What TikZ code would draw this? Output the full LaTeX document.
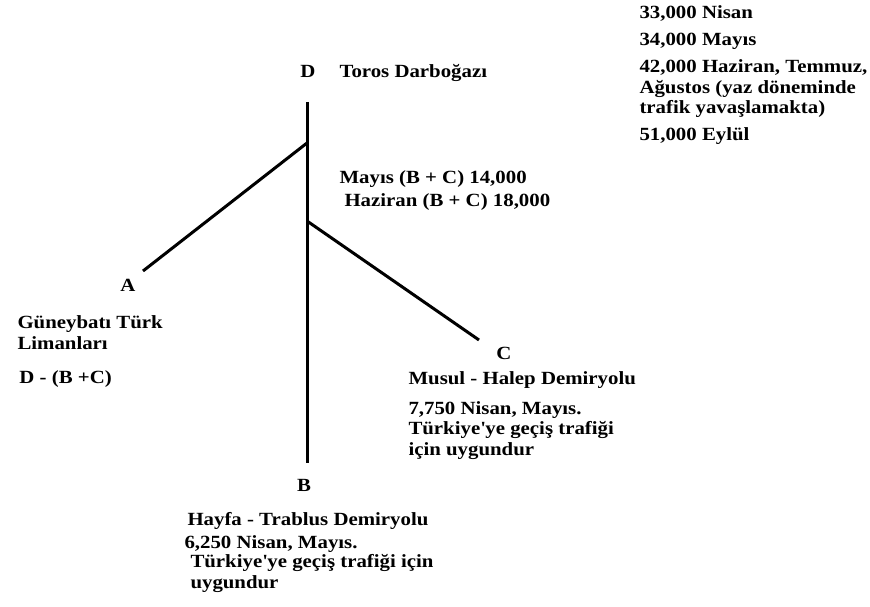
\documentclass[tikz,border=0pt]{standalone}
\usepackage{fontspec}
\setmainfont{Liberation Serif}[FakeStretch=1.12]
\begin{document}
\begin{tikzpicture}[x=1pt,y=-1pt,line width=3pt,
	lbl/.style={font=\bfseries\fontsize{18.6}{20.5}\selectfont, inner sep=0pt, anchor=base},
	txt/.style={lbl, anchor=base west, align=left}]
	\useasboundingbox (0,0) rectangle (870,607);
	% track ends
	\coordinate (Dtop)	at (307, 102);
	\coordinate (Bbot)	at (307, 463);
	\coordinate (Ajoin)	at (307, 143);
	\coordinate (Aend)	at (143, 271);
	\coordinate (Cjoin)	at (307, 221);
	\coordinate (Cend)	at (479, 340);
	% letters
	\node (D) at (308, 78)	[lbl]	{D};
	\node (A) at (128, 291)	[lbl]	{A};
	\node (C) at (504, 359)	[lbl]	{C};
	\node (B) at (304, 491)	[lbl]	{B};
	% texts (base = last line)
	\node (toros) at (338, 78)	[txt]	{Toros Darboğazı};
	\node (load) at (638, 141)	[txt]	{33,000 Nisan\\[6.5pt]34,000 Mayıs\\[6.5pt]42,000 Haziran, Temmuz,\\Ağustos (yaz döneminde\\trafik yavaşlamakta)\\[6.5pt]51,000 Eylül};
	\node (may) at (338, 183)	[txt]	{Mayıs (B + C) 14,000};
	\node (haz) at (343, 206)	[txt]	{Haziran (B + C) 18,000};
	\node (port) at (16, 349)	[txt]	{Güneybatı Türk\\Limanları};
	\node (diff) at (18, 383)	[txt]	{D - (B +C)};
	\node (musul) at (407, 384)	[txt]	{Musul - Halep Demiryolu};
	\node (mload) at (407, 455)	[txt]	{7,750 Nisan, Mayıs.\\Türkiye\textquotesingle ye geçiş trafiği\\için uygundur};
	\node (hayfa) at (186, 525)	[txt]	{Hayfa - Trablus Demiryolu};
	\node (hload) at (183, 548)	[txt]	{6,250 Nisan, Mayıs.};
	\node (hnote) at (189, 588)	[txt]	{Türkiye\textquotesingle ye geçiş trafiği için\\uygundur};
	% lines
	\draw (Dtop) -- (Bbot);
	\draw (Ajoin) -- (Aend);
	\draw (Cjoin) -- (Cend);
\end{tikzpicture}
\end{document}
